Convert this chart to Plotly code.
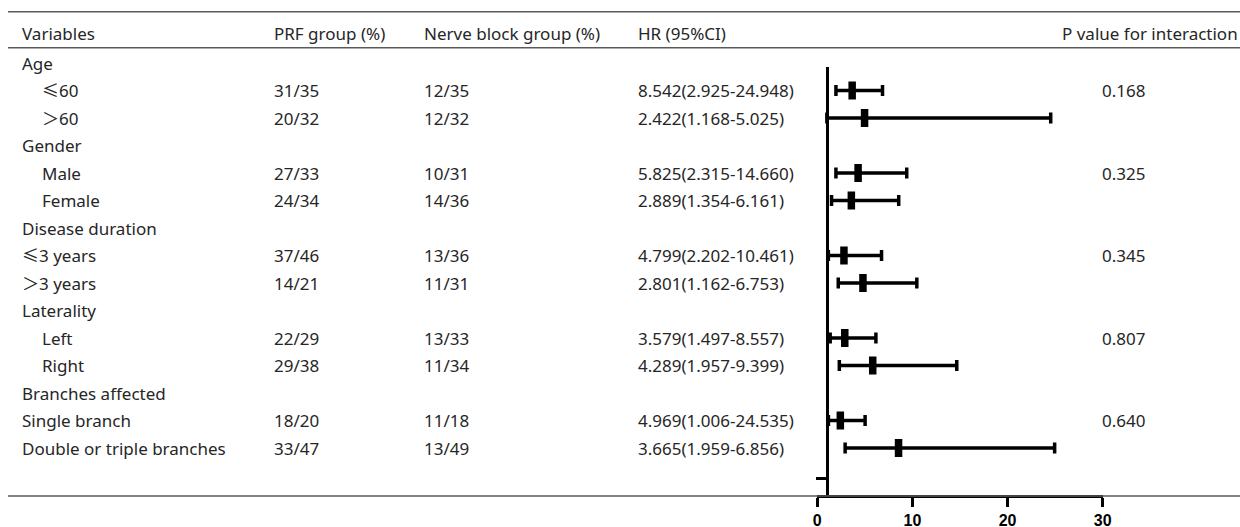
import plotly.graph_objects as go

# ---------------- data ----------------
row_labels = ["Age", "≤60", "＞60", "Gender", "Male", "Female",
              "Disease duration", "≤3 years", "＞3 years", "Laterality",
              "Left", "Right", "Branches affected", "Single branch",
              "Double or triple branches"]
row_indent = [0, 1, 1, 0, 1, 1, 0, 0, 0, 0, 1, 1, 0, 0, 0]
subgroup_rows = [1, 2, 4, 5, 7, 8, 10, 11, 13, 14]
prf_group = ["31/35", "20/32", "27/33", "24/34", "37/46", "14/21",
             "22/29", "29/38", "18/20", "33/47"]
nerve_block_group = ["12/35", "12/32", "10/31", "14/36", "13/36", "11/31",
                     "13/33", "11/34", "11/18", "13/49"]
hr = [8.542, 2.422, 5.825, 2.889, 4.799, 2.801, 3.579, 4.289, 4.969, 3.665]
hr_lo = [2.925, 1.168, 2.315, 1.354, 2.202, 1.162, 1.497, 1.957, 1.006, 1.959]
hr_hi = [24.948, 5.025, 14.660, 6.161, 10.461, 6.753, 8.557, 9.399, 24.535, 6.856]
p_rows = [1, 4, 7, 10, 13]
p_values = ["0.168", "0.325", "0.345", "0.807", "0.640"]
headers = ["Variables", "PRF group (%)", "Nerve block group (%)", "HR (95%CI)",
           "P value for interaction"]
x_ticks = [0, 10, 20, 30]

# In the original figure the plotted estimates run in reverse order of the rows
plot_hr = hr[::-1]
plot_lo = hr_lo[::-1]
plot_hi = hr_hi[::-1]

# ---------------- layout helpers ----------------
W, H = 1240, 527
ROW0, ROWH = 63.0, 27.5          # pixel centre of first row, row height


def prow(py):
    return (py - ROW0) / ROWH


def px(x):
    return x / W


TXT = dict(family="Noto Sans, Noto Sans CJK SC", size=17, color="#262626")

fig = go.Figure()

fig.add_trace(go.Scatter(
    x=plot_hr, y=subgroup_rows, xaxis="x", yaxis="y2", mode="markers",
    marker=dict(symbol="line-ns-open", size=13, color="black",
                line=dict(width=7.5, color="black")),
    error_x=dict(type="data", symmetric=False,
                 array=[h - m for h, m in zip(plot_hi, plot_hr)],
                 arrayminus=[m - l for m, l in zip(plot_hr, plot_lo)],
                 thickness=3.5, width=5.5, color="black"),
    showlegend=False, hoverinfo="skip"))

ann = []
# header
hy = prow(33)
for txt, x in zip(headers[:4], [22, 274, 424, 638]):
    ann.append(dict(x=px(x - 2), y=hy, text=txt, xanchor="left"))
ann.append(dict(x=px(1240), y=hy, text=headers[4], xanchor="right"))
# row labels
for i, (lab, ind) in enumerate(zip(row_labels, row_indent)):
    ann.append(dict(x=px(20 + 20 * ind), y=i, text=lab, xanchor="left"))
# columns
for r, a, b, h, l, u in zip(subgroup_rows, prf_group, nerve_block_group, hr, hr_lo, hr_hi):
    ann.append(dict(x=px(272), y=r, text=a, xanchor="left"))
    ann.append(dict(x=px(422), y=r, text=b, xanchor="left"))
    ann.append(dict(x=px(636), y=r, text=f"{h:.3f}({l:.3f}-{u:.3f})", xanchor="left"))
for r, p in zip(p_rows, p_values):
    ann.append(dict(x=px(1100), y=r, text=p, xanchor="left"))
for a in ann:
    a.update(xref="paper", yref="y", yanchor="middle", showarrow=False, font=TXT)

shapes = []
for py in [11.7, 47.7, 496]:
    shapes.append(dict(type="line", xref="paper", yref="y", x0=px(8), x1=1,
                       y0=prow(py), y1=prow(py), line=dict(color="#5a5a5a", width=1.5)))

xdom = [817.3 / W, 1102.7 / W]
xr = [0, 30]
ypos = (H - 496) / H
ref_pos = xdom[0] + (1 - xr[0]) / (xr[1] - xr[0]) * (xdom[1] - xdom[0])

fig.update_layout(
    width=W, height=H, autosize=False,
    margin=dict(l=0, r=0, t=0, b=0, pad=0, autoexpand=False),
    paper_bgcolor="white", plot_bgcolor="rgba(0,0,0,0)",
    xaxis=dict(domain=xdom, range=xr, anchor="free", position=ypos, automargin=False,
               tickvals=x_ticks, ticks="outside", ticklen=9, tickwidth=2.5,
               tickcolor="black", showline=True, linewidth=2.5, linecolor="black",
               showgrid=False, zeroline=False, ticklabelstandoff=0,
               tickfont=dict(family="Liberation Sans, Arial", size=16, color="black",
                             weight="bold")),
    yaxis=dict(domain=[0, 1], range=[prow(H), prow(0)], visible=False, automargin=False,
               showgrid=False, zeroline=False),
    yaxis2=dict(domain=[ypos, (H - 67) / H], range=[prow(496), prow(67)],
                anchor="free", position=ref_pos, showline=True, linewidth=2.7,
                automargin=False,
                linecolor="black", ticks="outside", tickvals=[15.1], ticklen=10,
                tickwidth=2.5, tickcolor="black", showticklabels=False,
                showgrid=False, zeroline=False),
    annotations=ann, shapes=shapes,
)

fig.write_html("out.html",
               config={"responsive": False, "displayModeBar": False},
               post_script="document.body.style.margin='0';document.body.style.overflow='hidden';")
